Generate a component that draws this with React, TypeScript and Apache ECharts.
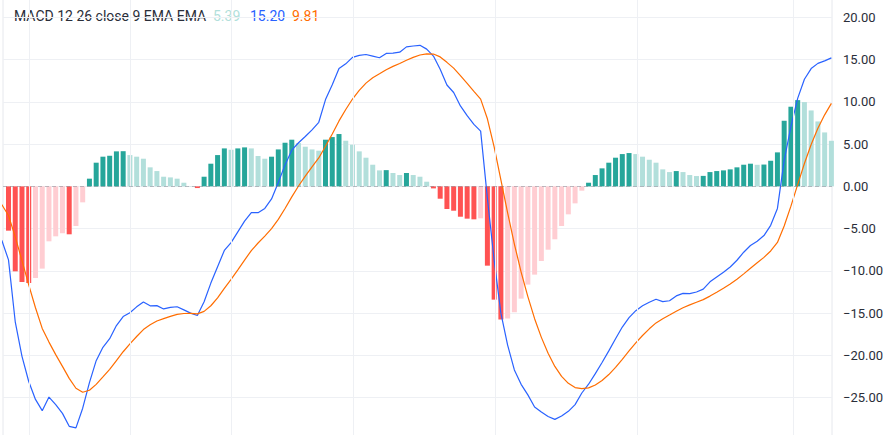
import React, { useEffect, useRef } from "react";
import * as echarts from "echarts";

// bar index (one bar per period); -1 is the period just left of the visible area
const barIndex: number[] = Array.from({ length: 124 }, (_, i) => i - 1);

const histogram: number[] = [
  -4.24, -5.24, -10.05, -11.31, -11.43, -10.84, -9.73, -6.5, -5.91, -5.56,
  -5.67, -4.69, -1.89, 0.91, 2.8, 3.51, 3.62, 4.14, 4.16, 3.7,
  3.51, 3.27, 2.25, 1.81, 1.14, 1.06, 0.91, 0.43, 0.04, -0.2,
  1.14, 2.68, 3.7, 4.49, 4.33, 4.49, 4.61, 4.49, 3.59, 3.27,
  3.51, 4.37, 5.16, 5.52, 5.12, 4.69, 4.37, 4.22, 5.52, 5.83,
  6.19, 5.4, 4.93, 4.14, 3.39, 2.56, 1.89, 1.92, 1.58, 1.34,
  1.58, 1.34, 1.14, 0.55, -0.24, -1.46, -2.68, -2.88, -3.59, -3.82,
  -3.9, -3.78, -9.38, -13.4, -15.76, -15.64, -14.89, -13.28, -11.62, -10.44,
  -8.83, -7.49, -6.26, -4.69, -3.31, -2.01, -0.51, 0.43, 1.34, 2.13,
  2.8, 3.39, 3.82, 3.94, 3.82, 3.51, 3.15, 2.8, 2.01, 1.69,
  1.81, 1.69, 1.34, 1.22, 1.24, 1.69, 1.81, 1.89, 2.01, 2.25,
  2.56, 2.68, 2.55, 2.58, 3.03, 4.02, 7.76, 9.42, 10.2, 9.97,
  8.98, 7.68, 6.38, 5.39,
];

const macdLine: number[] = [
  -6.38, -8.69, -16.02, -20.1, -23.08, -25.2, -26.53, -24.92, -25.81, -26.85,
  -28.38, -28.57, -26.24, -23.21, -20.62, -19.03, -18.02, -16.46, -15.4, -14.94,
  -14.25, -13.67, -14.13, -14.11, -14.5, -14.31, -14.24, -14.61, -14.99, -15.28,
  -13.65, -11.44, -9.5, -7.58, -6.66, -5.38, -4.11, -3.1, -3.11, -2.61,
  -1.49, 0.46, 2.54, 4.28, 5.16, 5.9, 6.68, 7.58, 10.26, 12.03,
  13.93, 14.49, 15.26, 15.5, 15.6, 15.41, 15.21, 15.72, 15.77, 15.87,
  16.5, 16.6, 16.68, 16.23, 15.41, 13.85, 11.99, 11.1, 9.51, 8.36,
  7.33, 6.54, -1.39, -8.73, -15.0, -18.77, -21.71, -23.42, -24.66, -26.09,
  -26.69, -27.22, -27.56, -27.16, -26.61, -25.81, -24.44, -23.4, -22.15, -20.83,
  -19.46, -18.02, -16.64, -15.53, -14.7, -14.13, -13.7, -13.35, -13.64, -13.53,
  -12.96, -12.66, -12.68, -12.49, -12.16, -11.29, -10.71, -10.16, -9.54, -8.74,
  -7.79, -7.0, -6.49, -5.82, -4.61, -2.61, 3.07, 7.08, 10.41, 12.67,
  13.93, 14.55, 14.84, 15.2,
];

const signalLine: number[] = [
  -2.14, -3.45, -5.97, -8.79, -11.65, -14.36, -16.8, -18.42, -19.9, -21.29,
  -22.71, -23.88, -24.35, -24.12, -23.42, -22.54, -21.64, -20.6, -19.56, -18.64,
  -17.76, -16.94, -16.38, -15.92, -15.64, -15.37, -15.15, -15.04, -15.03, -15.08,
  -14.79, -14.12, -13.2, -12.07, -10.99, -9.87, -8.72, -7.59, -6.7, -5.88,
  -5.0, -3.91, -2.62, -1.24, 0.04, 1.21, 2.31, 3.36, 4.74, 6.2,
  7.74, 9.09, 10.33, 11.36, 12.21, 12.85, 13.32, 13.8, 14.19, 14.53,
  14.92, 15.26, 15.54, 15.68, 15.65, 15.31, 14.67, 13.98, 13.1, 12.18,
  11.23, 10.32, 7.99, 4.67, 0.76, -3.13, -6.82, -10.14, -13.04, -15.65,
  -17.86, -19.73, -21.3, -22.47, -23.3, -23.8, -23.93, -23.83, -23.49, -22.96,
  -22.26, -21.41, -20.46, -19.47, -18.52, -17.64, -16.85, -16.15, -15.65, -15.22,
  -14.77, -14.35, -14.02, -13.71, -13.4, -12.98, -12.52, -12.05, -11.55, -10.99,
  -10.35, -9.68, -9.04, -8.4, -7.64, -6.63, -4.69, -2.34, 0.21, 2.7,
  4.95, 6.87, 8.46, 9.81,
];

// time-scale grid lines, in bar units
const timeGridBars: number[] = [3.04, 18.01, 33.09, 51.12, 72.13, 93.29, 116.35];

const legendTitle = "MACD 12 26 close 9 EMA EMA";

const COLORS = {
  upStrong: "#26a69a",
  upWeak: "#b2dfdb",
  downWeak: "#ffcdd2",
  downStrong: "#ff5252",
  macd: "#2962ff",
  signal: "#ff6d00",
  text: "#2a2e39",
  grid: "#eef0f4",
};

const FONT = "Roboto, 'Noto Sans', sans-serif";

// the chart canvas extends above and below the visible window so that the
// value scale (-30..25) maps exactly onto the reference's pixel scale
const CANVAS_SHIFT = 24.8;
const CANVAS_HEIGHT = 465.3;

export default function App() {
  const ref = useRef<HTMLDivElement>(null);

  useEffect(() => {
    if (!ref.current) return;
    const chart = echarts.init(ref.current, undefined, { renderer: "svg" });

    const barData: any[] = [];
    for (let i = 1; i < histogram.length; i++) {
      const v = histogram[i];
      const prev = histogram[i - 1];
      let color: string;
      if (v >= 0) color = v >= prev ? COLORS.upStrong : COLORS.upWeak;
      else color = v < prev ? COLORS.downStrong : COLORS.downWeak;
      barData.push({ value: [barIndex[i], v], itemStyle: { color } });
    }
    const macdData = barIndex.map((x, i) => [x, macdLine[i]]);
    const signalData = barIndex.map((x, i) => [x, signalLine[i]]);

    const last = histogram.length - 1;
    const minus = (s: string) => s.replace("-", "\u2212");
    const legendTop = 9 + CANVAS_SHIFT;

    chart.setOption({
      animation: false,
      grid: {
        left: 3,
        right: 62,
        top: 0,
        bottom: 0,
        show: true,
        borderColor: "#e6e8ed",
        borderWidth: 1,
        backgroundColor: "transparent",
      },
      xAxis: {
        type: "value",
        min: -0.815,
        max: 122.09,
        show: false,
        splitLine: { show: false },
      },
      yAxis: {
        type: "value",
        position: "right",
        min: -30,
        max: 25,
        interval: 5,
        axisLine: { show: false },
        axisTick: { show: false },
        splitLine: { show: true, lineStyle: { color: COLORS.grid, width: 1 } },
        axisLabel: {
          show: true,
          margin: 11,
          color: COLORS.text,
          fontSize: 13,
          fontFamily: FONT,
          showMinLabel: false,
          showMaxLabel: false,
          formatter: (v: number) => minus(v.toFixed(2)),
        },
      },
      graphic: [
        {
          type: "text",
          left: 14,
          top: legendTop,
          style: { text: legendTitle, fill: COLORS.text, font: `14px ${FONT}` },
        },
        {
          type: "text",
          left: 213,
          top: legendTop,
          style: { text: histogram[last].toFixed(2), fill: COLORS.upWeak, font: `14px ${FONT}` },
        },
        {
          type: "text",
          left: 250,
          top: legendTop,
          style: { text: macdLine[last].toFixed(2), fill: COLORS.macd, font: `14px ${FONT}` },
        },
        {
          type: "text",
          left: 292,
          top: legendTop,
          style: { text: signalLine[last].toFixed(2), fill: COLORS.signal, font: `14px ${FONT}` },
        },
      ],
      series: [
        {
          type: "line",
          data: [],
          z: 1,
          silent: true,
          markLine: {
            silent: true,
            symbol: "none",
            label: { show: false },
            lineStyle: { color: COLORS.grid, width: 1, type: "solid" },
            data: timeGridBars.map((v) => ({ xAxis: v })),
          },
        },
        {
          type: "bar",
          name: "Histogram",
          data: barData,
          barWidth: 5,
          z: 2,
        },
        {
          type: "line",
          name: "MACD",
          data: macdData,
          symbol: "none",
          z: 3,
          lineStyle: { color: COLORS.macd, width: 1.2 },
          itemStyle: { color: COLORS.macd },
        },
        {
          type: "line",
          name: "Signal",
          data: signalData,
          symbol: "none",
          z: 4,
          lineStyle: { color: COLORS.signal, width: 1.2 },
          itemStyle: { color: COLORS.signal },
        },
        {
          type: "line",
          data: [],
          z: 2.5,
          silent: true,
          markLine: {
            silent: true,
            symbol: "none",
            label: { show: false },
            lineStyle: { color: "rgba(120,123,134,0.45)", width: 1, type: [4, 3] },
            data: [{ yAxis: 0 }],
          },
        },
      ],
    });

    return () => chart.dispose();
  }, []);

  return (
    <div
      style={{
        position: "absolute",
        left: 0,
        top: 0,
        width: 894,
        height: 435,
        overflow: "hidden",
        background: "#ffffff",
      }}
    >
      <div
        ref={ref}
        style={{ position: "absolute", left: 0, top: -CANVAS_SHIFT, width: 894, height: CANVAS_HEIGHT }}
      />
    </div>
  );
}
